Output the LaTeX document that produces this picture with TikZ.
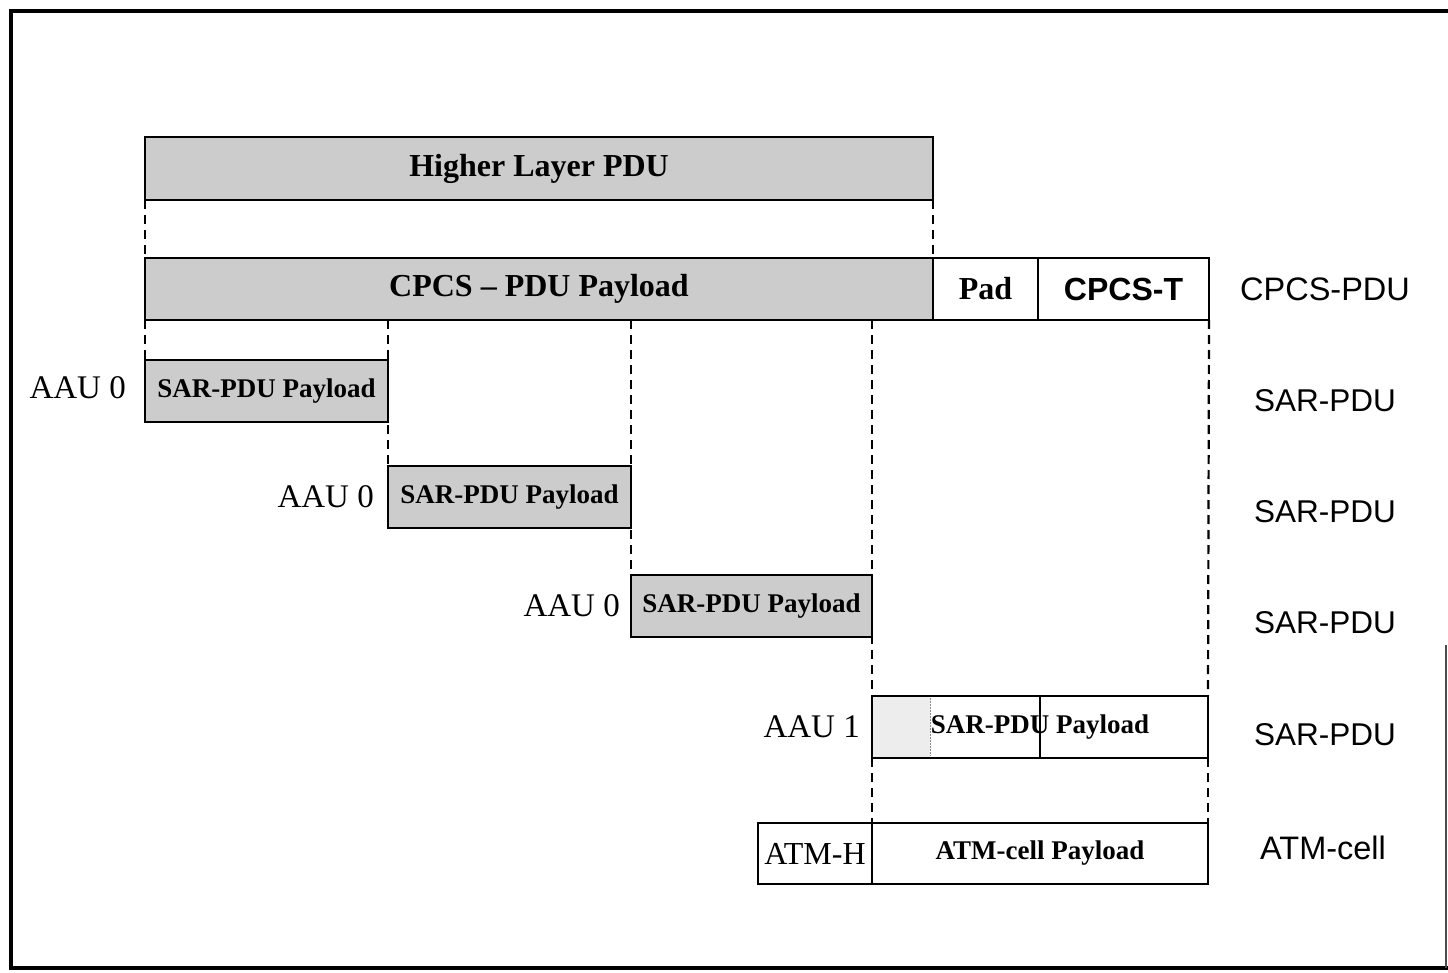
\documentclass[tikz,border=0pt]{standalone}
\usepackage{fontspec}
\setmainfont{Liberation Serif}
\setsansfont{Liberation Sans}
\begin{document}
\begin{tikzpicture}[x=1pt,y=-1pt,
  cell/.style={draw=black,line width=2.2pt,rectangle,anchor=north west,inner sep=0pt,outer sep=0pt,
    font=\fontsize{27}{32}\selectfont\bfseries},
  shaded/.style={fill=black!20},
  big/.style={font=\fontsize{32}{38}\selectfont\bfseries},
  lbl/.style={font=\fontsize{33}{39}\selectfont,inner sep=0pt},
  rlbl/.style={font=\sffamily\fontsize{31.5}{37}\selectfont,inner sep=0pt},
  dline/.style={line width=2.2pt,dash pattern=on 9pt off 6pt}]
\useasboundingbox (0,0) rectangle (1448,973);
% frame
\draw[line width=4pt] (1448,11) -- (11,11) -- (11,968) -- (1448,968);
\draw[line width=1.5pt,black!70] (1446,645) -- (1446,968);
% higher layer
\node[cell,shaded,big,minimum width=788pt,minimum height=63pt] (hl) at (145,137) {Higher Layer PDU};
% CPCS row
\node[cell,shaded,big,minimum width=788pt,minimum height=62pt] (cp) at (145,258) {CPCS -- PDU Payload};
\node[cell,big,minimum width=105pt,minimum height=62pt] (pad) at (933,258) {Pad};
\node[cell,font=\sffamily\fontsize{32}{38}\selectfont\bfseries,minimum width=171pt,minimum height=62pt] (ct) at (1038,258) {CPCS-T};
\node[rlbl,font=\sffamily\fontsize{32.5}{38}\selectfont,anchor=center] (l1) at (1325,289) {CPCS-PDU};
% SAR rows
\node[cell,shaded,minimum width=243pt,minimum height=62pt] (s1) at (145,360) {SAR-PDU Payload};
\node[lbl,anchor=east] (a1) at (126,388) {AAU 0};
\node[rlbl,anchor=center] (l2) at (1325,401) {SAR-PDU};
\node[cell,shaded,minimum width=243pt,minimum height=62pt] (s2) at (388,466) {SAR-PDU Payload};
\node[lbl,anchor=east] (a2) at (374,497) {AAU 0};
\node[rlbl,anchor=center] (l3) at (1325,512) {SAR-PDU};
\node[cell,shaded,minimum width=241pt,minimum height=62pt] (s3) at (631,575) {SAR-PDU Payload};
\node[lbl,anchor=east] (a3) at (620,606) {AAU 0};
\node[rlbl,anchor=center] (l4) at (1325,623) {SAR-PDU};
% AAU 1 row
\fill[black!7] (872,696) rectangle (930,758);
\draw[black!45,line width=1pt,dash pattern=on 2pt off 1pt] (930,698) -- (930,756);
\node[cell,minimum width=336pt,minimum height=62pt] (s4) at (872,696) {SAR-PDU Payload};
\draw[line width=2.2pt] (s4.north) -- (s4.south);
\node[lbl,anchor=east] (a4) at (860,727) {AAU 1};
\node[rlbl,anchor=center] (l5) at (1325,735) {SAR-PDU};
% ATM row
\node[cell,font=\fontsize{32}{38}\selectfont,minimum width=114pt,minimum height=61pt] (ah) at (758,823) {ATM-H};
\node[cell,minimum width=336pt,minimum height=61pt] (ap) at (872,823) {ATM-cell Payload};
\node[rlbl,font=\sffamily\fontsize{32.5}{38}\selectfont,anchor=center] (l6) at (1323,848) {ATM-cell};
% dashed connectors
\draw[dline] (hl.south west) -- (cp.north west);
\draw[dline] (hl.south east) -- (cp.north east);
\draw[dline] (cp.south west) -- (s1.north west);
\draw[dline] (cp.south -| s2.north west) -- (s2.north west);
\draw[dline] (cp.south -| s3.north west) -- (s3.north west);
\draw[dline] (cp.south -| s4.north west) -- (s4.north west);
\draw[dline] (ct.south east) -- (s4.north east);
\draw[dline] (s4.south west) -- (ap.north west);
\draw[dline] (s4.south east) -- (ap.north east);
\end{tikzpicture}
\end{document}
